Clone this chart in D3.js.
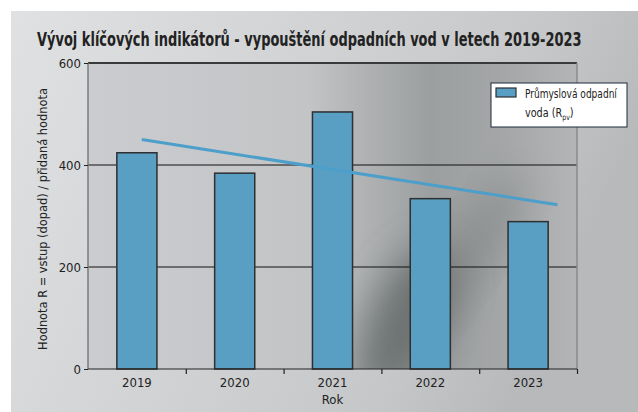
<!DOCTYPE html>
<html>
<head>
<meta charset="utf-8">
<script src="https://cdn.jsdelivr.net/npm/d3@7"></script>
<style>
  html, body { margin: 0; padding: 0; background: #fff; }
  svg { display: block; }
  text { font-family: "Liberation Sans Narrow", "DejaVu Sans Condensed", "Roboto", sans-serif; fill: #222; }
</style>
</head>
<body>
<svg id="chart" width="638" height="412"></svg>
<script>
(() => {
  'use strict';

  const years = ["2019", "2020", "2021", "2022", "2023"];
  const values = [424, 384, 504, 334, 289];
  const trendValues = [450, 322];
  const yTicks = [0, 200, 400, 600];

  const title = "Vývoj klíčových indikátorů - vypouštění odpadních vod v letech 2019-2023";
  const yTitle = "Hodnota R = vstup (dopad) / přidaná hodnota";
  const xTitle = "Rok";
  const legendLine1 = "Průmyslová odpadní";

  const width = 638, height = 412;
  const plot = {left: 88, right: 577, top: 63, bottom: 369};

  let svg = d3.select("#chart");
  let defs = svg.append("defs");

  // squeeze a text horizontally so it fits a given width (condensed look)
  function fitWidth(sel, w, anchorX, anchorY) {
    let len = sel.node().getComputedTextLength();
    let k = Math.min(1, w / len);
    sel.attr("transform", `translate(${anchorX},${anchorY}) scale(${k},1)`);
  }

  // metallic looking backgrounds
  let bgGrad = defs.append("linearGradient").attr("id", "bg")
    .attr("x1", "0").attr("y1", "0").attr("x2", "1").attr("y2", "0.3");
  bgGrad.append("stop").attr("offset", "0").attr("stop-color", "#e0e1e3");
  bgGrad.append("stop").attr("offset", "0.45").attr("stop-color", "#d2d3d5");
  bgGrad.append("stop").attr("offset", "0.8").attr("stop-color", "#c6c7c9");
  bgGrad.append("stop").attr("offset", "1").attr("stop-color", "#b8b9bb");

  let plotGrad = defs.append("linearGradient").attr("id", "plotbg")
    .attr("x1", "0").attr("y1", "0").attr("x2", "1").attr("y2", "0");
  plotGrad.append("stop").attr("offset", "0").attr("stop-color", "#cbcccf");
  plotGrad.append("stop").attr("offset", "0.45").attr("stop-color", "#c3c4c6");
  plotGrad.append("stop").attr("offset", "0.57").attr("stop-color", "#afb1b3");
  plotGrad.append("stop").attr("offset", "0.7").attr("stop-color", "#9c9fa0");
  plotGrad.append("stop").attr("offset", "0.85").attr("stop-color", "#a4a6a8");
  plotGrad.append("stop").attr("offset", "1").attr("stop-color", "#b4b5b7");

  let blur = defs.append("filter").attr("id", "blur")
    .attr("x", "-50%").attr("y", "-50%").attr("width", "200%").attr("height", "200%");
  blur.append("feGaussianBlur").attr("stdDeviation", 20);

  let clip = defs.append("clipPath").attr("id", "plotclip");
  clip.append("rect")
    .attr("x", plot.left).attr("y", plot.top)
    .attr("width", plot.right - plot.left).attr("height", plot.bottom - plot.top);

  svg.append("rect").attr("x", 11).attr("y", 11).attr("width", width - 11).attr("height", height - 11)
    .attr("fill", "url(#bg)");

  svg.append("rect")
    .attr("x", plot.left).attr("y", plot.top)
    .attr("width", plot.right - plot.left).attr("height", plot.bottom - plot.top)
    .attr("fill", "url(#plotbg)");

  // dark smudges in the lower middle / right of the plot
  let shade = svg.append("g").attr("clip-path", "url(#plotclip)");
  shade.append("ellipse").attr("cx", 405).attr("cy", 325).attr("rx", 38).attr("ry", 85)
    .attr("transform", "rotate(25,405,325)")
    .attr("fill", "#5a615f").attr("opacity", 0.75).attr("filter", "url(#blur)");
  shade.append("ellipse").attr("cx", 470).attr("cy", 250).attr("rx", 22).attr("ry", 90)
    .attr("transform", "rotate(35,470,250)")
    .attr("fill", "#6f7473").attr("opacity", 0.45).attr("filter", "url(#blur)");

  let x = d3.scaleBand().domain(years).range([plot.left, plot.right]).paddingInner(0.59).paddingOuter(0.295);
  let xIdx = d3.scaleLinear().domain([-0.5, years.length - 0.5]).range([plot.left, plot.right]);
  let y = d3.scaleLinear().domain([0, 600]).range([plot.bottom, plot.top]);

  // gridlines
  svg.append("g").selectAll("line").data(yTicks.filter(d => d > 0)).join("line")
    .attr("x1", plot.left).attr("x2", plot.right)
    .attr("y1", d => y(d)).attr("y2", d => y(d))
    .attr("stroke", d => d === 600 ? "#3a3a3a" : "#111")
    .attr("stroke-width", d => d === 600 ? 2.2 : 1);

  // plot side borders
  svg.append("line").attr("x1", plot.left).attr("x2", plot.left)
    .attr("y1", plot.top).attr("y2", plot.bottom).attr("stroke", "#7a7b7d").attr("stroke-width", 1.5);
  svg.append("line").attr("x1", plot.right).attr("x2", plot.right)
    .attr("y1", plot.top).attr("y2", plot.bottom).attr("stroke", "#8a8b8d").attr("stroke-width", 1.5);

  // y axis
  let yAxis = svg.append("g").attr("transform", `translate(${plot.left},0)`)
    .call(d3.axisLeft(y).tickValues(yTicks).tickSize(4).tickPadding(3));
  yAxis.select(".domain").remove();
  yAxis.selectAll("line").attr("stroke", "#222");
  yAxis.selectAll("text").style("font-size", "13px").attr("fill", "#222");

  // bars
  svg.append("g").selectAll("rect").data(values).join("rect")
    .attr("x", (d, i) => x(years[i]))
    .attr("y", d => y(d))
    .attr("width", x.bandwidth())
    .attr("height", d => y(0) - y(d))
    .attr("fill", "#589fc3")
    .attr("stroke", "#2d2f30")
    .attr("stroke-width", 1.5);

  // x axis
  let xAxis = svg.append("g").attr("transform", `translate(0,${plot.bottom})`)
    .call(d3.axisBottom(xIdx).tickValues(d3.range(-0.5, years.length, 1)).tickSize(5).tickFormat(""));
  xAxis.select(".domain").attr("stroke", "#222").attr("d", `M${plot.left},0H${plot.right}`);
  xAxis.selectAll(".tick line").attr("stroke", "#222").attr("stroke-width", 1.2)
    .filter((d, i) => i === 0).remove();

  svg.append("g").selectAll("text").data(years).join("text")
    .attr("x", d => x(d) + x.bandwidth() / 2)
    .attr("y", plot.bottom + 18)
    .attr("text-anchor", "middle")
    .style("font-size", "13px")
    .text(d => d);

  // trend line
  svg.append("line")
    .attr("x1", xIdx(0.05)).attr("y1", y(trendValues[0]))
    .attr("x2", xIdx(4.3)).attr("y2", y(trendValues[1]))
    .attr("stroke", "#4c9fcb").attr("stroke-width", 3);

  // titles
  let t = svg.append("text")
    .style("font-size", "19.5px").style("font-weight", "bold")
    .attr("fill", "#1e1e1e")
    .text(title);
  fitWidth(t, 545, 37, 46);

  let yt = svg.append("text")
    .attr("text-anchor", "middle")
    .style("font-size", "13px")
    .text(yTitle);
  let ylen = yt.node().getComputedTextLength();
  yt.attr("transform", `translate(47,${(plot.top + plot.bottom) / 2 + 3}) rotate(-90) scale(${Math.min(1, 262 / ylen)},1)`);

  svg.append("text").attr("x", (plot.left + plot.right) / 2).attr("y", 404)
    .attr("text-anchor", "middle").style("font-size", "13px").text(xTitle);

  // legend
  let lg = svg.append("g").attr("transform", "translate(491,83)");
  lg.append("rect").attr("width", 136).attr("height", 44)
    .attr("fill", "#fff").attr("stroke", "#1d2a3a").attr("stroke-width", 1);
  lg.append("rect").attr("x", 5).attr("y", 5).attr("width", 20).attr("height", 9)
    .attr("fill", "#589fc3").attr("stroke", "#2d2f30").attr("stroke-width", 1.2);
  let l1 = lg.append("text").style("font-size", "12.5px").text(legendLine1);
  fitWidth(l1, 92, 34, 15);
  let t2 = lg.append("text").style("font-size", "12.5px");
  t2.append("tspan").text("voda (R");
  t2.append("tspan").attr("dy", 3).style("font-size", "8px").text("pv");
  t2.append("tspan").attr("dy", -3).text(")");
  t2.attr("transform", "translate(34,34) scale(0.86,1)");
})();
</script>
</body>
</html>
